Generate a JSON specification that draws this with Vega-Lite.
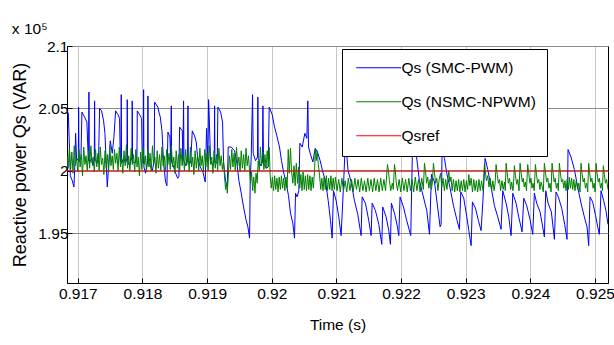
{
"$schema":"https://vega.github.io/schema/vega-lite/v6.json",
"width":541,"height":237,
"autosize":"none",
"padding":{"left":67,"top":46,"right":6,"bottom":62},
"background":"white",
"config":{
"font":"Liberation Sans",
"view":{"stroke":"black","strokeWidth":1},
"axis":{"labelFont":"Liberation Sans","labelFontSize":15.5,"labelColor":"black","titleColor":"black","titleFontWeight":"normal","tickColor":"black","domainColor":"black","titleFont":"Liberation Sans","titleFontSize":15.5}
},
"title":{"text":"x 10⁵","anchor":"start","fontSize":15.5,"fontWeight":"normal","font":"Liberation Sans","offset":11,"dy":21,"baseline":"alphabetic","color":"black"},
"data":{"values":[
{"s":"a","t":0.916833,"q":2.048},{"s":"a","t":0.916853,"q":2.046},{"s":"a","t":0.916868,"q":2.024},{"s":"a","t":0.916884,"q":1.996},{"s":"a","t":0.916915,"q":1.992},{"s":"a","t":0.91694,"q":1.987},{"s":"a","t":0.916956,"q":2.006},{"s":"a","t":0.916966,"q":2.03},{"s":"a","t":0.916982,"q":2.008},{"s":"a","t":0.917008,"q":2.01},{"s":"a","t":0.917013,"q":2.051},{"s":"a","t":0.917018,"q":2.007},{"s":"a","t":0.917049,"q":2.011},{"s":"a","t":0.917064,"q":2.047},{"s":"a","t":0.917105,"q":2.043},{"s":"a","t":0.917141,"q":2.039},{"s":"a","t":0.917157,"q":2.016},{"s":"a","t":0.917167,"q":2.008},{"s":"a","t":0.917172,"q":2.063},{"s":"a","t":0.917178,"q":2.006},{"s":"a","t":0.917214,"q":2.01},{"s":"a","t":0.917234,"q":2.004},{"s":"a","t":0.917255,"q":2.008},{"s":"a","t":0.91726,"q":2.056},{"s":"a","t":0.917265,"q":2.01},{"s":"a","t":0.917296,"q":2.006},{"s":"a","t":0.917322,"q":2.011},{"s":"a","t":0.917337,"q":2.05},{"s":"a","t":0.917368,"q":2.048},{"s":"a","t":0.917399,"q":2.04},{"s":"a","t":0.91742,"q":2.03},{"s":"a","t":0.917435,"q":2.011},{"s":"a","t":0.917456,"q":1.987},{"s":"a","t":0.917476,"q":2.003},{"s":"a","t":0.917502,"q":2.024},{"s":"a","t":0.917533,"q":2.014},{"s":"a","t":0.917559,"q":2.027},{"s":"a","t":0.917585,"q":2.048},{"s":"a","t":0.917621,"q":2.045},{"s":"a","t":0.917646,"q":2.042},{"s":"a","t":0.917657,"q":2.011},{"s":"a","t":0.917667,"q":2.007},{"s":"a","t":0.917672,"q":2.061},{"s":"a","t":0.917677,"q":2.006},{"s":"a","t":0.917708,"q":2.01},{"s":"a","t":0.917739,"q":2.006},{"s":"a","t":0.91776,"q":2.01},{"s":"a","t":0.917765,"q":2.057},{"s":"a","t":0.91777,"q":2.008},{"s":"a","t":0.917801,"q":2.004},{"s":"a","t":0.917837,"q":2.011},{"s":"a","t":0.917842,"q":2.056},{"s":"a","t":0.917847,"q":2.007},{"s":"a","t":0.917884,"q":2.006},{"s":"a","t":0.917915,"q":2.011},{"s":"a","t":0.91792,"q":2.048},{"s":"a","t":0.917956,"q":2.045},{"s":"a","t":0.917987,"q":2.042},{"s":"a","t":0.917997,"q":2.008},{"s":"a","t":0.918012,"q":2.006},{"s":"a","t":0.918018,"q":2.065},{"s":"a","t":0.918023,"q":2.003},{"s":"a","t":0.918048,"q":1.998},{"s":"a","t":0.918079,"q":2.007},{"s":"a","t":0.918085,"q":2.06},{"s":"a","t":0.91809,"q":2.008},{"s":"a","t":0.918121,"q":2.004},{"s":"a","t":0.918152,"q":2.0},{"s":"a","t":0.918182,"q":2.008},{"s":"a","t":0.918188,"q":2.055},{"s":"a","t":0.918239,"q":2.051},{"s":"a","t":0.918255,"q":2.047},{"s":"a","t":0.918276,"q":2.043},{"s":"a","t":0.918302,"q":2.032},{"s":"a","t":0.918327,"q":2.006},{"s":"a","t":0.918358,"q":1.991},{"s":"a","t":0.918379,"q":1.988},{"s":"a","t":0.918394,"q":2.031},{"s":"a","t":0.918425,"q":2.027},{"s":"a","t":0.918436,"q":2.008},{"s":"a","t":0.918446,"q":2.052},{"s":"a","t":0.918451,"q":2.007},{"s":"a","t":0.918482,"q":2.003},{"s":"a","t":0.918513,"q":1.998},{"s":"a","t":0.918544,"q":1.994},{"s":"a","t":0.918564,"q":1.995},{"s":"a","t":0.918575,"q":2.035},{"s":"a","t":0.918616,"q":2.032},{"s":"a","t":0.918626,"q":2.008},{"s":"a","t":0.918636,"q":2.056},{"s":"a","t":0.918642,"q":2.008},{"s":"a","t":0.918673,"q":2.004},{"s":"a","t":0.918698,"q":2.008},{"s":"a","t":0.918704,"q":2.052},{"s":"a","t":0.918709,"q":2.008},{"s":"a","t":0.918745,"q":2.006},{"s":"a","t":0.918771,"q":2.032},{"s":"a","t":0.918807,"q":2.028},{"s":"a","t":0.918832,"q":2.023},{"s":"a","t":0.918853,"q":2.011},{"s":"a","t":0.918894,"q":2.003},{"s":"a","t":0.918935,"q":1.999},{"s":"a","t":0.918971,"q":1.991},{"s":"a","t":0.918992,"q":2.034},{"s":"a","t":0.919013,"q":2.008},{"s":"a","t":0.919023,"q":2.057},{"s":"a","t":0.919028,"q":2.051},{"s":"a","t":0.919054,"q":2.008},{"s":"a","t":0.91909,"q":2.004},{"s":"a","t":0.919111,"q":2.008},{"s":"a","t":0.919116,"q":2.052},{"s":"a","t":0.919121,"q":2.007},{"s":"a","t":0.919157,"q":2.006},{"s":"a","t":0.919167,"q":2.051},{"s":"a","t":0.919209,"q":2.047},{"s":"a","t":0.919239,"q":2.039},{"s":"a","t":0.919255,"q":2.006},{"s":"a","t":0.919286,"q":1.992},{"s":"a","t":0.919312,"q":1.987},{"s":"a","t":0.919327,"q":2.019},{"s":"a","t":0.919373,"q":2.019},{"s":"a","t":0.919425,"q":2.016},{"s":"a","t":0.919461,"q":2.006},{"s":"a","t":0.919492,"q":1.992},{"s":"a","t":0.919528,"q":1.982},{"s":"a","t":0.919564,"q":1.971},{"s":"a","t":0.919605,"q":1.96},{"s":"a","t":0.919631,"q":1.955},{"s":"a","t":0.919657,"q":1.946},{"s":"a","t":0.919667,"q":1.992},{"s":"a","t":0.919682,"q":2.011},{"s":"a","t":0.919703,"q":2.061},{"s":"a","t":0.919713,"q":2.014},{"s":"a","t":0.919749,"q":2.008},{"s":"a","t":0.91978,"q":2.011},{"s":"a","t":0.919785,"q":2.059},{"s":"a","t":0.919791,"q":2.01},{"s":"a","t":0.919827,"q":2.004},{"s":"a","t":0.919857,"q":2.007},{"s":"a","t":0.919863,"q":2.052},{"s":"a","t":0.919873,"q":2.006},{"s":"a","t":0.919914,"q":2.002},{"s":"a","t":0.919945,"q":2.003},{"s":"a","t":0.919961,"q":2.051},{"s":"a","t":0.920007,"q":2.045},{"s":"a","t":0.920043,"q":2.035},{"s":"a","t":0.920079,"q":2.028},{"s":"a","t":0.92012,"q":2.019},{"s":"a","t":0.920151,"q":2.008},{"s":"a","t":0.920182,"q":1.999},{"s":"a","t":0.920223,"q":1.99},{"s":"a","t":0.920259,"q":1.98},{"s":"a","t":0.92029,"q":1.966},{"s":"a","t":0.920326,"q":1.958},{"s":"a","t":0.920352,"q":1.946},{"s":"a","t":0.920368,"q":1.982},{"s":"a","t":0.920393,"q":1.979},{"s":"a","t":0.920419,"q":1.984},{"s":"a","t":0.920435,"q":2.022},{"s":"a","t":0.920471,"q":2.019},{"s":"a","t":0.920512,"q":2.03},{"s":"a","t":0.920543,"q":2.026},{"s":"a","t":0.920558,"q":2.056},{"s":"a","t":0.920569,"q":2.019},{"s":"a","t":0.920594,"q":2.014},{"s":"a","t":0.920636,"q":2.007},{"s":"a","t":0.920672,"q":2.018},{"s":"a","t":0.920708,"q":2.015},{"s":"a","t":0.920749,"q":2.008},{"s":"a","t":0.92079,"q":1.999},{"s":"a","t":0.920831,"q":1.992},{"s":"a","t":0.920873,"q":1.976},{"s":"a","t":0.920909,"q":1.96},{"s":"a","t":0.920934,"q":1.946},{"s":"a","t":0.920955,"q":1.984},{"s":"a","t":0.920996,"q":1.976},{"s":"a","t":0.921037,"q":1.963},{"s":"a","t":0.921073,"q":1.948},{"s":"a","t":0.921109,"q":1.987},{"s":"a","t":0.92114,"q":2.025},{"s":"a","t":0.921181,"q":2.0},{"s":"a","t":0.921228,"q":1.991},{"s":"a","t":0.921279,"q":1.976},{"s":"a","t":0.921331,"q":1.965},{"s":"a","t":0.921382,"q":1.948},{"s":"a","t":0.921398,"q":1.979},{"s":"a","t":0.921449,"q":1.974},{"s":"a","t":0.921501,"q":1.96},{"s":"a","t":0.921537,"q":1.948},{"s":"a","t":0.921553,"q":1.974},{"s":"a","t":0.921604,"q":1.968},{"s":"a","t":0.921656,"q":1.957},{"s":"a","t":0.921702,"q":1.941},{"s":"a","t":0.921717,"q":1.971},{"s":"a","t":0.921769,"q":1.963},{"s":"a","t":0.92181,"q":1.952},{"s":"a","t":0.921836,"q":1.941},{"s":"a","t":0.921851,"q":1.974},{"s":"a","t":0.921903,"q":1.965},{"s":"a","t":0.921944,"q":1.955},{"s":"a","t":0.921965,"q":1.948},{"s":"a","t":0.921985,"q":1.979},{"s":"a","t":0.922037,"q":1.971},{"s":"a","t":0.922088,"q":1.96},{"s":"a","t":0.92215,"q":1.948},{"s":"a","t":0.922181,"q":2.03},{"s":"a","t":0.922233,"q":2.014},{"s":"a","t":0.922284,"q":1.992},{"s":"a","t":0.922346,"q":1.979},{"s":"a","t":0.922398,"q":1.968},{"s":"a","t":0.92244,"q":1.949},{"s":"a","t":0.92247,"q":1.997},{"s":"a","t":0.922517,"q":1.991},{"s":"a","t":0.922558,"q":1.974},{"s":"a","t":0.922604,"q":1.955},{"s":"a","t":0.92262,"q":1.957},{"s":"a","t":0.922635,"q":2.018},{"s":"a","t":0.922671,"q":2.01},{"s":"a","t":0.922707,"q":1.998},{"s":"a","t":0.922759,"q":1.986},{"s":"a","t":0.922811,"q":1.972},{"s":"a","t":0.922862,"q":1.961},{"s":"a","t":0.922903,"q":1.953},{"s":"a","t":0.922924,"q":1.983},{"s":"a","t":0.92297,"q":1.978},{"s":"a","t":0.923017,"q":1.963},{"s":"a","t":0.923048,"q":1.952},{"s":"a","t":0.923084,"q":1.94},{"s":"a","t":0.923104,"q":1.975},{"s":"a","t":0.923151,"q":1.97},{"s":"a","t":0.923197,"q":1.96},{"s":"a","t":0.923238,"q":1.952},{"s":"a","t":0.923264,"q":1.974},{"s":"a","t":0.9233,"q":2.01},{"s":"a","t":0.923341,"q":2.001},{"s":"a","t":0.923393,"q":1.987},{"s":"a","t":0.923444,"q":1.972},{"s":"a","t":0.923496,"q":1.963},{"s":"a","t":0.923547,"q":1.953},{"s":"a","t":0.923573,"q":1.984},{"s":"a","t":0.923625,"q":1.974},{"s":"a","t":0.923666,"q":1.963},{"s":"a","t":0.923702,"q":1.948},{"s":"a","t":0.923728,"q":1.982},{"s":"a","t":0.923779,"q":1.974},{"s":"a","t":0.92382,"q":1.963},{"s":"a","t":0.923872,"q":1.951},{"s":"a","t":0.923898,"q":1.978},{"s":"a","t":0.923944,"q":1.972},{"s":"a","t":0.923995,"q":1.961},{"s":"a","t":0.924037,"q":1.949},{"s":"a","t":0.924062,"q":1.982},{"s":"a","t":0.924098,"q":1.974},{"s":"a","t":0.92415,"q":1.967},{"s":"a","t":0.924191,"q":1.955},{"s":"a","t":0.924217,"q":1.947},{"s":"a","t":0.924238,"q":1.984},{"s":"a","t":0.924274,"q":1.974},{"s":"a","t":0.924325,"q":1.967},{"s":"a","t":0.924372,"q":1.945},{"s":"a","t":0.924397,"q":1.983},{"s":"a","t":0.924433,"q":1.979},{"s":"a","t":0.924485,"q":1.97},{"s":"a","t":0.924531,"q":1.957},{"s":"a","t":0.924567,"q":1.945},{"s":"a","t":0.924583,"q":2.017},{"s":"a","t":0.924629,"q":2.011},{"s":"a","t":0.924681,"q":2.001},{"s":"a","t":0.924732,"q":1.987},{"s":"a","t":0.924784,"q":1.974},{"s":"a","t":0.924835,"q":1.963},{"s":"a","t":0.924877,"q":1.955},{"s":"a","t":0.924902,"q":1.94},{"s":"a","t":0.924923,"q":1.979},{"s":"a","t":0.924964,"q":1.975},{"s":"a","t":0.925005,"q":1.965},{"s":"a","t":0.925042,"q":1.955},{"s":"a","t":0.925067,"q":1.949},{"s":"a","t":0.925093,"q":1.984},{"s":"a","t":0.925134,"q":1.976},{"s":"a","t":0.92517,"q":1.968},{"s":"a","t":0.925201,"q":1.957},
{"s":"b","t":0.916833,"q":2.012},{"s":"b","t":0.91685,"q":2.002},{"s":"b","t":0.91687,"q":2.018},{"s":"b","t":0.91689,"q":2.001},{"s":"b","t":0.916908,"q":2.015},{"s":"b","t":0.916926,"q":1.998},{"s":"b","t":0.916945,"q":2.02},{"s":"b","t":0.916963,"q":2.004},{"s":"b","t":0.916982,"q":2.01},{"s":"b","t":0.917,"q":1.999},{"s":"b","t":0.917018,"q":2.017},{"s":"b","t":0.917036,"q":2.003},{"s":"b","t":0.917055,"q":2.013},{"s":"b","t":0.917073,"q":1.996},{"s":"b","t":0.917092,"q":2.019},{"s":"b","t":0.91711,"q":2.005},{"s":"b","t":0.917128,"q":2.012},{"s":"b","t":0.917146,"q":2.0},{"s":"b","t":0.917165,"q":2.016},{"s":"b","t":0.917183,"q":2.002},{"s":"b","t":0.917202,"q":2.02},{"s":"b","t":0.91722,"q":2.006},{"s":"b","t":0.917238,"q":2.011},{"s":"b","t":0.917256,"q":1.999},{"s":"b","t":0.917275,"q":2.017},{"s":"b","t":0.917293,"q":2.003},{"s":"b","t":0.917312,"q":2.014},{"s":"b","t":0.91733,"q":2.0},{"s":"b","t":0.917348,"q":2.019},{"s":"b","t":0.917366,"q":2.005},{"s":"b","t":0.917385,"q":2.01},{"s":"b","t":0.917403,"q":1.997},{"s":"b","t":0.917422,"q":2.016},{"s":"b","t":0.91744,"q":2.002},{"s":"b","t":0.917458,"q":2.013},{"s":"b","t":0.917476,"q":1.999},{"s":"b","t":0.917495,"q":2.02},{"s":"b","t":0.917513,"q":2.004},{"s":"b","t":0.917532,"q":2.012},{"s":"b","t":0.91755,"q":2.001},{"s":"b","t":0.917568,"q":2.017},{"s":"b","t":0.917586,"q":2.006},{"s":"b","t":0.917605,"q":2.014},{"s":"b","t":0.917623,"q":2.0},{"s":"b","t":0.917642,"q":2.019},{"s":"b","t":0.91766,"q":2.003},{"s":"b","t":0.917678,"q":2.011},{"s":"b","t":0.917696,"q":1.998},{"s":"b","t":0.917715,"q":2.016},{"s":"b","t":0.917733,"q":2.004},{"s":"b","t":0.917752,"q":2.021},{"s":"b","t":0.91777,"q":2.002},{"s":"b","t":0.917788,"q":2.012},{"s":"b","t":0.917806,"q":2.0},{"s":"b","t":0.917825,"q":2.018},{"s":"b","t":0.917843,"q":2.005},{"s":"b","t":0.917862,"q":2.013},{"s":"b","t":0.91788,"q":1.999},{"s":"b","t":0.917898,"q":2.017},{"s":"b","t":0.917916,"q":2.003},{"s":"b","t":0.917935,"q":2.011},{"s":"b","t":0.917953,"q":1.996},{"s":"b","t":0.917972,"q":2.015},{"s":"b","t":0.91799,"q":2.001},{"s":"b","t":0.918008,"q":2.019},{"s":"b","t":0.918026,"q":2.005},{"s":"b","t":0.918045,"q":2.012},{"s":"b","t":0.918063,"q":1.999},{"s":"b","t":0.918082,"q":2.017},{"s":"b","t":0.9181,"q":2.003},{"s":"b","t":0.918118,"q":2.014},{"s":"b","t":0.918136,"q":2.0},{"s":"b","t":0.918155,"q":2.02},{"s":"b","t":0.918173,"q":2.006},{"s":"b","t":0.918192,"q":2.011},{"s":"b","t":0.91821,"q":1.998},{"s":"b","t":0.918228,"q":2.016},{"s":"b","t":0.918246,"q":2.002},{"s":"b","t":0.918265,"q":2.013},{"s":"b","t":0.918283,"q":2.0},{"s":"b","t":0.918302,"q":2.019},{"s":"b","t":0.91832,"q":2.004},{"s":"b","t":0.918338,"q":2.012},{"s":"b","t":0.918356,"q":1.999},{"s":"b","t":0.918375,"q":2.017},{"s":"b","t":0.918393,"q":2.005},{"s":"b","t":0.918412,"q":2.014},{"s":"b","t":0.91843,"q":2.001},{"s":"b","t":0.918448,"q":2.02},{"s":"b","t":0.918466,"q":2.003},{"s":"b","t":0.918485,"q":2.011},{"s":"b","t":0.918503,"q":1.998},{"s":"b","t":0.918522,"q":2.016},{"s":"b","t":0.91854,"q":2.002},{"s":"b","t":0.918558,"q":2.013},{"s":"b","t":0.918576,"q":1.999},{"s":"b","t":0.918595,"q":2.018},{"s":"b","t":0.918613,"q":2.004},{"s":"b","t":0.918632,"q":2.012},{"s":"b","t":0.91865,"q":2.0},{"s":"b","t":0.918668,"q":2.017},{"s":"b","t":0.918686,"q":2.005},{"s":"b","t":0.918705,"q":2.014},{"s":"b","t":0.918723,"q":1.999},{"s":"b","t":0.918742,"q":2.019},{"s":"b","t":0.91876,"q":2.003},{"s":"b","t":0.918778,"q":2.011},{"s":"b","t":0.918796,"q":1.997},{"s":"b","t":0.918815,"q":2.016},{"s":"b","t":0.918833,"q":2.002},{"s":"b","t":0.918852,"q":2.013},{"s":"b","t":0.91887,"q":2.0},{"s":"b","t":0.918888,"q":2.018},{"s":"b","t":0.918906,"q":2.004},{"s":"b","t":0.918925,"q":2.012},{"s":"b","t":0.918943,"q":1.999},{"s":"b","t":0.918962,"q":2.017},{"s":"b","t":0.91898,"q":2.003},{"s":"b","t":0.918998,"q":2.014},{"s":"b","t":0.919016,"q":2.0},{"s":"b","t":0.919035,"q":2.02},{"s":"b","t":0.919053,"q":2.005},{"s":"b","t":0.919072,"q":2.011},{"s":"b","t":0.91909,"q":1.998},{"s":"b","t":0.919108,"q":2.016},{"s":"b","t":0.919126,"q":2.002},{"s":"b","t":0.919145,"q":2.013},{"s":"b","t":0.919163,"q":2.0},{"s":"b","t":0.919182,"q":2.018},{"s":"b","t":0.9192,"q":2.004},{"s":"b","t":0.919218,"q":2.012},{"s":"b","t":0.919236,"q":2.001},
{"s":"b","t":0.919255,"q":2.008},{"s":"b","t":0.91927,"q":1.995},{"s":"b","t":0.919286,"q":1.985},{"s":"b","t":0.9193,"q":1.99},{"s":"b","t":0.919312,"q":1.982},{"s":"b","t":0.919327,"q":1.995},{"s":"b","t":0.919345,"q":2.012},{"s":"b","t":0.919363,"q":2.001},{"s":"b","t":0.919382,"q":2.017},{"s":"b","t":0.9194,"q":2.003},{"s":"b","t":0.919418,"q":2.014},{"s":"b","t":0.919436,"q":2.0},{"s":"b","t":0.919455,"q":2.019},{"s":"b","t":0.919473,"q":2.004},{"s":"b","t":0.919492,"q":2.011},{"s":"b","t":0.91951,"q":1.999},{"s":"b","t":0.919528,"q":2.016},{"s":"b","t":0.919546,"q":2.002},{"s":"b","t":0.919565,"q":2.013},{"s":"b","t":0.919583,"q":2.0},{"s":"b","t":0.919602,"q":2.018},{"s":"b","t":0.91962,"q":2.004},{"s":"b","t":0.91964,"q":2.012},{"s":"b","t":0.919656,"q":2.0},{"s":"b","t":0.919672,"q":1.99},{"s":"b","t":0.919688,"q":1.999},{"s":"b","t":0.919705,"q":1.984},{"s":"b","t":0.919722,"q":1.995},{"s":"b","t":0.91974,"q":1.982},{"s":"b","t":0.919757,"q":1.998},{"s":"b","t":0.919775,"q":1.99},{"s":"b","t":0.91979,"q":2.008},{"s":"b","t":0.919808,"q":2.0},{"s":"b","t":0.919825,"q":2.019},{"s":"b","t":0.919842,"q":2.004},{"s":"b","t":0.91986,"q":2.015},{"s":"b","t":0.919878,"q":2.001},{"s":"b","t":0.919895,"q":2.013},{"s":"b","t":0.919912,"q":2.002},{"s":"b","t":0.91993,"q":2.016},{"s":"b","t":0.919948,"q":2.003},{"s":"b","t":0.91996,"q":2.019},{"s":"b","t":0.919975,"q":1.997},{"s":"b","t":0.919992,"q":1.986},{"s":"b","t":0.92001,"q":1.995},{"s":"b","t":0.920028,"q":1.984},{"s":"b","t":0.920045,"q":1.996},{"s":"b","t":0.920062,"q":1.985},{"s":"b","t":0.92008,"q":1.994},{"s":"b","t":0.920098,"q":1.983},{"s":"b","t":0.920115,"q":1.995},{"s":"b","t":0.920133,"q":1.985},{"s":"b","t":0.92015,"q":1.996},{"s":"b","t":0.920168,"q":1.986},{"s":"b","t":0.920185,"q":1.994},{"s":"b","t":0.920203,"q":1.984},{"s":"b","t":0.92022,"q":1.995},{"s":"b","t":0.920238,"q":1.986},{"s":"b","t":0.920255,"q":2.017},{"s":"b","t":0.92027,"q":1.998},{"s":"b","t":0.92029,"q":2.018},{"s":"b","t":0.920305,"q":2.0},{"s":"b","t":0.920327,"q":1.99},{"s":"b","t":0.920345,"q":2.004},{"s":"b","t":0.920362,"q":1.988},{"s":"b","t":0.92038,"q":2.006},{"s":"b","t":0.920398,"q":1.99},{"s":"b","t":0.920415,"q":2.003},{"s":"b","t":0.920433,"q":1.986},{"s":"b","t":0.92045,"q":1.997},{"s":"b","t":0.920468,"q":1.984},{"s":"b","t":0.920485,"q":1.999},{"s":"b","t":0.920503,"q":1.985},{"s":"b","t":0.92052,"q":1.996},{"s":"b","t":0.920538,"q":1.984},{"s":"b","t":0.920555,"q":1.997},{"s":"b","t":0.920573,"q":1.985},{"s":"b","t":0.92059,"q":1.996},{"s":"b","t":0.920608,"q":1.984},{"s":"b","t":0.920625,"q":1.995},{"s":"b","t":0.920643,"q":1.986},{"s":"b","t":0.920662,"q":2.0},{"s":"b","t":0.920674,"q":2.017},{"s":"b","t":0.920688,"q":2.008},{"s":"b","t":0.920702,"q":2.016},{"s":"b","t":0.92072,"q":2.005},{"s":"b","t":0.92074,"q":1.996},{"s":"b","t":0.920758,"q":1.985},{"s":"b","t":0.920775,"q":1.994},{"s":"b","t":0.920793,"q":1.984},{"s":"b","t":0.92081,"q":1.995},{"s":"b","t":0.920828,"q":1.985},{"s":"b","t":0.920845,"q":1.996},{"s":"b","t":0.920863,"q":1.984},{"s":"b","t":0.92088,"q":1.994},{"s":"b","t":0.920898,"q":1.985},{"s":"b","t":0.920915,"q":1.996},{"s":"b","t":0.920933,"q":1.984},{"s":"b","t":0.92095,"q":1.994},{"s":"b","t":0.920968,"q":1.985},{"s":"b","t":0.920985,"q":1.995},
{"s":"b","t":0.92101,"q":1.984},{"s":"b","t":0.921035,"q":1.993},{"s":"b","t":0.92106,"q":1.983},{"s":"b","t":0.921085,"q":1.994},{"s":"b","t":0.92111,"q":1.984},{"s":"b","t":0.921135,"q":1.992},{"s":"b","t":0.92116,"q":1.983},{"s":"b","t":0.921185,"q":1.994},{"s":"b","t":0.92121,"q":1.984},{"s":"b","t":0.921235,"q":1.993},{"s":"b","t":0.92126,"q":1.983},{"s":"b","t":0.921285,"q":1.994},{"s":"b","t":0.92131,"q":1.985},{"s":"b","t":0.921335,"q":1.993},{"s":"b","t":0.92136,"q":1.983},{"s":"b","t":0.921385,"q":1.994},{"s":"b","t":0.92141,"q":1.984},{"s":"b","t":0.921435,"q":1.992},{"s":"b","t":0.92146,"q":1.983},{"s":"b","t":0.921485,"q":1.994},{"s":"b","t":0.92151,"q":1.984},{"s":"b","t":0.921535,"q":1.993},{"s":"b","t":0.92156,"q":1.983},{"s":"b","t":0.921585,"q":1.994},{"s":"b","t":0.92161,"q":1.984},{"s":"b","t":0.921635,"q":1.993},{"s":"b","t":0.92166,"q":1.983},{"s":"b","t":0.921685,"q":1.994},{"s":"b","t":0.92171,"q":1.984},{"s":"b","t":0.921735,"q":1.993},{"s":"b","t":0.92176,"q":1.984},{"s":"b","t":0.92179,"q":2.005},{"s":"b","t":0.921805,"q":2.0},{"s":"b","t":0.92182,"q":1.992},{"s":"b","t":0.92184,"q":1.984},{"s":"b","t":0.921865,"q":1.99},{"s":"b","t":0.92188,"q":1.985},{"s":"b","t":0.921898,"q":2.005},{"s":"b","t":0.921912,"q":2.0},{"s":"b","t":0.921925,"q":1.991},{"s":"b","t":0.921945,"q":1.984},{"s":"b","t":0.92197,"q":1.993},{"s":"b","t":0.921995,"q":1.983},{"s":"b","t":0.92202,"q":1.994},{"s":"b","t":0.922045,"q":1.984},{"s":"b","t":0.92207,"q":1.993},{"s":"b","t":0.922095,"q":1.983},{"s":"b","t":0.92212,"q":1.994},{"s":"b","t":0.922145,"q":1.984},{"s":"b","t":0.92217,"q":1.993},{"s":"b","t":0.922195,"q":1.983},{"s":"b","t":0.92222,"q":1.995},{"s":"b","t":0.922245,"q":1.984},{"s":"b","t":0.92227,"q":1.993},{"s":"b","t":0.922295,"q":1.983},{"s":"b","t":0.92232,"q":1.994},{"s":"b","t":0.922345,"q":1.985},{"s":"b","t":0.922362,"q":2.006},{"s":"b","t":0.922378,"q":2.0},{"s":"b","t":0.922395,"q":1.99},{"s":"b","t":0.922412,"q":1.995},{"s":"b","t":0.92243,"q":1.986},{"s":"b","t":0.92245,"q":1.993},{"s":"b","t":0.92247,"q":1.985},{"s":"b","t":0.922485,"q":1.991},{"s":"b","t":0.922501,"q":2.006},{"s":"b","t":0.922518,"q":1.998},{"s":"b","t":0.922535,"q":1.99},{"s":"b","t":0.922552,"q":1.994},{"s":"b","t":0.92257,"q":1.984},{"s":"b","t":0.92259,"q":1.993},{"s":"b","t":0.92261,"q":1.998},{"s":"b","t":0.92263,"q":1.987},{"s":"b","t":0.92265,"q":1.994},{"s":"b","t":0.92267,"q":1.984},{"s":"b","t":0.92269,"q":1.993},{"s":"b","t":0.92271,"q":1.985},{"s":"b","t":0.922738,"q":2.0},{"s":"b","t":0.922755,"q":1.991},{"s":"b","t":0.922772,"q":1.995},{"s":"b","t":0.92279,"q":1.984},{"s":"b","t":0.92281,"q":1.993},{"s":"b","t":0.92283,"q":1.983},{"s":"b","t":0.92285,"q":1.992},{"s":"b","t":0.92287,"q":1.984},{"s":"b","t":0.92289,"q":1.993},{"s":"b","t":0.92291,"q":1.983},{"s":"b","t":0.92293,"q":1.992},{"s":"b","t":0.92295,"q":1.984},{"s":"b","t":0.92297,"q":1.993},{"s":"b","t":0.92299,"q":1.983},{"s":"b","t":0.92301,"q":1.992},{"s":"b","t":0.92303,"q":1.985},{"s":"b","t":0.923048,"q":1.997},{"s":"b","t":0.923065,"q":1.988},{"s":"b","t":0.923085,"q":1.994},{"s":"b","t":0.923105,"q":1.983},{"s":"b","t":0.923125,"q":1.993},{"s":"b","t":0.923145,"q":1.984},{"s":"b","t":0.923165,"q":1.992},{"s":"b","t":0.923185,"q":1.983},{"s":"b","t":0.923205,"q":1.993},{"s":"b","t":0.923225,"q":1.984},{"s":"b","t":0.923245,"q":1.992},{"s":"b","t":0.923268,"q":1.984},{"s":"b","t":0.92329,"q":2.006},{"s":"b","t":0.923305,"q":1.999},{"s":"b","t":0.92332,"q":1.992},{"s":"b","t":0.92334,"q":1.996},{"s":"b","t":0.92336,"q":1.987},{"s":"b","t":0.92338,"q":1.994},{"s":"b","t":0.9234,"q":1.984},{"s":"b","t":0.92342,"q":1.992},{"s":"b","t":0.92344,"q":1.984},{"s":"b","t":0.923455,"q":1.99},{"s":"b","t":0.92347,"q":2.005},{"s":"b","t":0.923488,"q":1.997},{"s":"b","t":0.923505,"q":1.99},{"s":"b","t":0.923522,"q":1.993},{"s":"b","t":0.92354,"q":1.984},{"s":"b","t":0.92356,"q":1.992},{"s":"b","t":0.92358,"q":1.985},{"s":"b","t":0.9236,"q":1.991},{"s":"b","t":0.923612,"q":1.984},{"s":"b","t":0.923625,"q":2.006},{"s":"b","t":0.923642,"q":1.998},{"s":"b","t":0.92366,"q":1.99},{"s":"b","t":0.923678,"q":1.994},{"s":"b","t":0.923695,"q":1.985},{"s":"b","t":0.923712,"q":1.991},{"s":"b","t":0.92373,"q":1.984},{"s":"b","t":0.92374,"q":1.988},{"s":"b","t":0.923753,"q":2.004},{"s":"b","t":0.92377,"q":1.996},{"s":"b","t":0.92379,"q":1.989},{"s":"b","t":0.923805,"q":1.993},{"s":"b","t":0.923825,"q":1.984},{"s":"b","t":0.923841,"q":2.006},{"s":"b","t":0.923858,"q":1.998},{"s":"b","t":0.923875,"q":1.991},{"s":"b","t":0.92389,"q":1.994},{"s":"b","t":0.923905,"q":1.987},{"s":"b","t":0.923922,"q":1.991},{"s":"b","t":0.92394,"q":1.984},{"s":"b","t":0.923959,"q":2.005},{"s":"b","t":0.923975,"q":1.998},{"s":"b","t":0.923992,"q":1.99},{"s":"b","t":0.92401,"q":1.994},{"s":"b","t":0.924025,"q":1.986},{"s":"b","t":0.924042,"q":1.99},{"s":"b","t":0.92406,"q":1.984},{"s":"b","t":0.924078,"q":2.005},{"s":"b","t":0.924095,"q":1.997},{"s":"b","t":0.924112,"q":1.99},{"s":"b","t":0.92413,"q":1.993},{"s":"b","t":0.924148,"q":1.985},{"s":"b","t":0.924165,"q":1.991},{"s":"b","t":0.924185,"q":1.987},{"s":"b","t":0.9242,"q":1.983},{"s":"b","t":0.924217,"q":2.006},{"s":"b","t":0.924235,"q":1.998},{"s":"b","t":0.924252,"q":1.991},{"s":"b","t":0.92427,"q":1.994},{"s":"b","t":0.924288,"q":1.986},{"s":"b","t":0.924305,"q":1.99},{"s":"b","t":0.92432,"q":1.983},{"s":"b","t":0.924336,"q":2.006},{"s":"b","t":0.924352,"q":1.998},{"s":"b","t":0.924368,"q":1.991},{"s":"b","t":0.924385,"q":1.994},{"s":"b","t":0.924402,"q":1.986},{"s":"b","t":0.924418,"q":1.99},{"s":"b","t":0.924433,"q":1.984},{"s":"b","t":0.924449,"q":2.006},{"s":"b","t":0.924465,"q":1.998},{"s":"b","t":0.924482,"q":1.991},{"s":"b","t":0.9245,"q":1.993},{"s":"b","t":0.924518,"q":1.986},{"s":"b","t":0.924535,"q":1.992},{"s":"b","t":0.924552,"q":1.984},{"s":"b","t":0.92457,"q":1.993},{"s":"b","t":0.924588,"q":1.985},{"s":"b","t":0.924603,"q":1.995},{"s":"b","t":0.92462,"q":1.986},{"s":"b","t":0.924638,"q":1.994},{"s":"b","t":0.924655,"q":1.985},{"s":"b","t":0.924673,"q":1.993},{"s":"b","t":0.92469,"q":1.984},{"s":"b","t":0.92471,"q":1.992},{"s":"b","t":0.92473,"q":1.985},{"s":"b","t":0.92475,"q":1.99},{"s":"b","t":0.924768,"q":1.983},{"s":"b","t":0.924784,"q":2.006},{"s":"b","t":0.9248,"q":1.998},{"s":"b","t":0.924817,"q":1.991},{"s":"b","t":0.924835,"q":1.994},{"s":"b","t":0.924852,"q":1.986},{"s":"b","t":0.92487,"q":1.99},{"s":"b","t":0.924887,"q":1.983},{"s":"b","t":0.924902,"q":2.006},{"s":"b","t":0.924918,"q":1.998},{"s":"b","t":0.924935,"q":1.991},{"s":"b","t":0.924952,"q":1.994},{"s":"b","t":0.92497,"q":1.986},{"s":"b","t":0.924987,"q":1.99},{"s":"b","t":0.925002,"q":1.983},{"s":"b","t":0.925016,"q":2.006},{"s":"b","t":0.925032,"q":1.998},{"s":"b","t":0.92505,"q":1.991},{"s":"b","t":0.925067,"q":1.994},{"s":"b","t":0.925085,"q":1.986},{"s":"b","t":0.9251,"q":1.99},{"s":"b","t":0.925115,"q":1.984},{"s":"b","t":0.925129,"q":2.004},{"s":"b","t":0.925145,"q":1.997},{"s":"b","t":0.925162,"q":1.99},{"s":"b","t":0.92518,"q":1.993},{"s":"b","t":0.925201,"q":1.985},
{"s":"c","t":0.916833,"q":2.0},{"s":"c","t":0.925201,"q":2.0}
]},
"mark":{"type":"line","clip":true},
"encoding":{
"x":{"field":"t","type":"quantitative","scale":{"domain":[0.916833,0.925201],"nice":false,"zero":false},
"axis":{"orient":"bottom","values":[0.917,0.918,0.919,0.92,0.921,0.922,0.923,0.924,0.925],"format":"~g","title":"Time (s)","grid":true,"gridColor":"#c8c8c8","tickSize":-5,"labelPadding":8,"titlePadding":16}},
"y":{"field":"q","type":"quantitative","scale":{"domain":[1.91,2.1],"nice":false,"zero":false},
"axis":{"orient":"left","values":[1.95,2,2.05,2.1],"format":"~g","title":"Reactive power Qs (VAR)","titleFontSize":18,"grid":true,"gridColor":"#8c8c8c","tickSize":-5,"labelPadding":4,"titlePadding":8}},
"color":{"field":"s","type":"nominal","scale":{"domain":["a","b","c"],"range":["#0000ff","#008000","#ff0000"]},
"legend":{"orient":"none","legendX":275,"legendY":3,"title":null,"labelExpr":"datum.label == 'a' ? 'Qs (SMC-PWM)' : datum.label == 'b' ? 'Qs (NSMC-NPWM)' : 'Qsref'","symbolType":"M-1,0H9","symbolSize":81,"symbolStrokeWidth":1,"labelFontSize":15.5,"labelFont":"Liberation Sans","labelColor":"black","strokeColor":"black","fillColor":"white","padding":11,"rowPadding":17,"labelOffset":33}},
"strokeWidth":{"field":"s","type":"nominal","scale":{"domain":["a","b","c"],"range":[1,1,1.5]},"legend":null}
}
}
